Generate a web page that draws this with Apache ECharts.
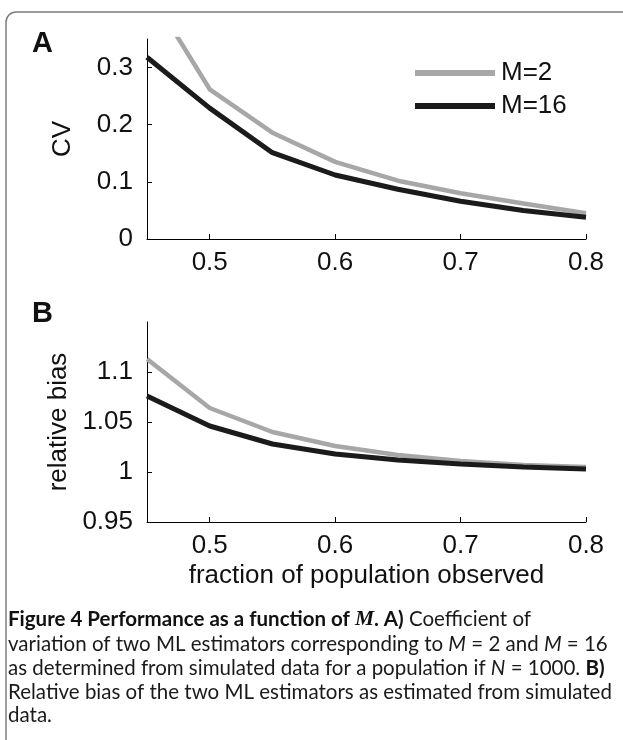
<!DOCTYPE html>
<html>
<head>
<meta charset="utf-8">
<script src="https://cdn.jsdelivr.net/npm/echarts@6/dist/echarts.min.js"></script>
<style>
html,body{margin:0;padding:0;background:#fff;}
#chart{width:623px;height:740px;}
</style>
</head>
<body>
<div id="chart"></div>
<script>
// ---- data ----
const fraction = [0.45, 0.5, 0.55, 0.6, 0.65, 0.7, 0.75, 0.8];
const cvM2 = [0.44, 0.262, 0.186, 0.135, 0.102, 0.080, 0.062, 0.045];
const cvM16 = [0.318, 0.229, 0.151, 0.112, 0.087, 0.066, 0.050, 0.038];
const biasM2 = [1.113, 1.064, 1.040, 1.026, 1.017, 1.011, 1.007, 1.005];
const biasM16 = [1.076, 1.046, 1.028, 1.018, 1.012, 1.008, 1.005, 1.003];
const xTicks = [0.5, 0.6, 0.7, 0.8];
const cvTicks = [0, 0.1, 0.2, 0.3];
const biasTicks = [0.95, 1, 1.05, 1.1];
const seriesNames = ['M=2', 'M=16'];
const captionLines = [
  '{b|Figure 4 Performance as a function of }{bm|M}{b|. A)} Coefficient of',
  'variation of two ML estimators corresponding to {i|M} = 2 and {i|M} = 16',
  'as determined from simulated data for a population if {i|N} = 1000. {b|B)}',
  'Relative bias of the two ML estimators as estimated from simulated',
  'data.'
];

const GRAY = '#a7a7a7', BLACK = '#1b1b1b';
const AX_FONT = 'Liberation Sans, Arial, sans-serif';
const CAP_FONT = 'Lato, sans-serif';
const CAP_SIZE = 20.5;
const pair = (xs, ys) => xs.map((x, i) => [x, ys[i]]);

function xAxisCfg(gridIndex, withName) {
  const c = {
    type: 'value', gridIndex, min: 0.45, max: 0.8,
    axisLine: { show: true, lineStyle: { color: '#000', width: 1 } },
    axisTick: { show: true, inside: true, length: 5, customValues: xTicks, lineStyle: { color: '#000' } },
    axisLabel: { customValues: xTicks, margin: 11, fontSize: 26, color: '#111', fontFamily: AX_FONT },
    splitLine: { show: false }
  };
  if (withName) {
    Object.assign(c, {
      name: 'fraction of population observed', nameLocation: 'middle', nameGap: 41,
      nameTextStyle: { fontSize: 26, color: '#111', fontFamily: AX_FONT }
    });
  }
  return c;
}
function yAxisCfg(gridIndex, min, max, ticks, name) {
  return {
    type: 'value', gridIndex, min, max,
    axisLine: { show: true, lineStyle: { color: '#000', width: 1 } },
    axisTick: { show: true, inside: true, length: 5, customValues: ticks, lineStyle: { color: '#000' } },
    axisLabel: { customValues: ticks, margin: 14, fontSize: 26, color: '#111', fontFamily: AX_FONT },
    splitLine: { show: false },
    name, nameLocation: 'middle', nameGap: 71,
    nameTextStyle: { fontSize: 26, color: '#111', fontFamily: AX_FONT }
  };
}
function lineSeries(name, data, color, width, xi, yi) {
  return {
    type: 'line', name, data, xAxisIndex: xi, yAxisIndex: yi,
    showSymbol: false, symbol: 'none', clip: true, animation: false,
    color, lineStyle: { color, width }, itemStyle: { color }
  };
}

const chart = echarts.init(document.getElementById('chart'), null, { renderer: 'canvas' });

const graphics = [
  { type: 'rect', shape: { x: 6, y: 12, width: 700, height: 800, r: 10 },
    style: { fill: 'none', stroke: '#7d7d7d', lineWidth: 1.5 }, z: -1, silent: true },
  { type: 'text', left: 32, top: 29, style: { text: 'A', font: 'bold 29px Liberation Sans, Arial, sans-serif', fill: '#111' } },
  { type: 'text', left: 32, top: 299, style: { text: 'B', font: 'bold 29px Liberation Sans, Arial, sans-serif', fill: '#111' } }
];
const capY = [619, 644, 668, 692, 715];
captionLines.forEach((t, i) => {
  graphics.push({
    type: 'text', x: 8, y: capY[i],
    style: {
      text: t, fill: '#1a1a1a', fontSize: CAP_SIZE, fontFamily: CAP_FONT,
      verticalAlign: 'middle', align: 'left',
      rich: {
        b: { fontWeight: 'bold', fontSize: CAP_SIZE, fontFamily: CAP_FONT, fill: '#111' },
        bm: { fontWeight: 'bold', fontStyle: 'italic', fontSize: CAP_SIZE + 1, fontFamily: 'Liberation Serif, serif', fill: '#111' },
        i: { fontStyle: 'italic', fontSize: CAP_SIZE, fontFamily: CAP_FONT, fill: '#1a1a1a' }
      }
    }
  });
});

chart.setOption({
  backgroundColor: '#fff',
  animation: false,
  grid: [
    { left: 147, right: 37, top: 39, height: 200, containLabel: false },
    { left: 147, right: 37, top: 322, height: 200, containLabel: false }
  ],
  legend: {
    data: seriesNames, orient: 'vertical', left: 410, top: 55,
    icon: 'rect', itemWidth: 80, itemHeight: 6, itemGap: 7,
    textStyle: { fontSize: 26, color: '#111', fontFamily: AX_FONT, padding: [0, 0, 0, 1] }
  },
  xAxis: [xAxisCfg(0, false), xAxisCfg(1, true)],
  yAxis: [
    yAxisCfg(0, 0, 0.35, cvTicks, 'CV'),
    yAxisCfg(1, 0.95, 1.15, biasTicks, 'relative bias')
  ],
  series: [
    lineSeries(seriesNames[0], pair(fraction, cvM2), GRAY, 4.5, 0, 0),
    lineSeries(seriesNames[1], pair(fraction, cvM16), BLACK, 5, 0, 0),
    lineSeries(seriesNames[0], pair(fraction, biasM2), GRAY, 4.5, 1, 1),
    lineSeries(seriesNames[1], pair(fraction, biasM16), BLACK, 5, 1, 1)
  ],
  graphic: graphics
});
</script>
</body>
</html>
